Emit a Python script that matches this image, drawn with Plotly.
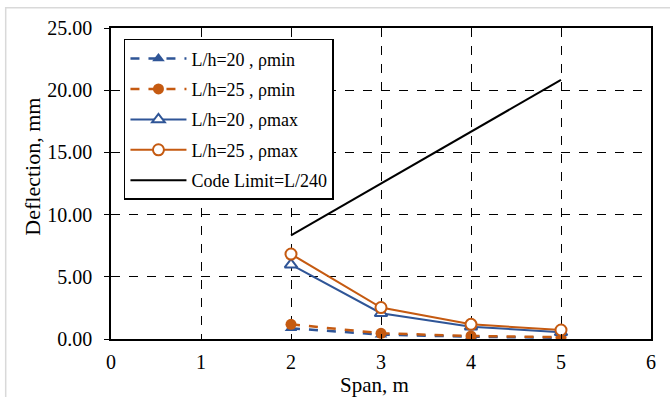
import plotly.graph_objects as go

span = [2, 3, 4, 5]
lh20_min = [0.86, 0.35, 0.18, 0.10]
lh25_min = [1.18, 0.46, 0.24, 0.15]
lh20_max = [5.97, 2.07, 0.99, 0.54]
lh25_max = [6.83, 2.53, 1.18, 0.72]
code_limit = [8.33, 12.50, 16.67, 20.83]

names = ["L/h=20 , ρmin", "L/h=25 , ρmin", "L/h=20 , ρmax", "L/h=25 , ρmax", "Code Limit=L/240"]

BLUE = "#2F5597"
ORANGE = "#C55A11"
FONT = "Liberation Serif"

fig = go.Figure()
fig.add_trace(go.Scatter(x=span, y=lh20_min, name=names[0], mode="lines+markers", legendgroup="a",
                         line=dict(color=BLUE, width=2.5, dash="dash"),
                         marker=dict(symbol="triangle-up", size=11, color=BLUE)))
fig.add_trace(go.Scatter(x=span, y=lh25_min, name=names[1], mode="lines+markers", legendgroup="b",
                         line=dict(color=ORANGE, width=2.5, dash="dash"),
                         marker=dict(symbol="circle", size=11, color=ORANGE)))
fig.add_trace(go.Scatter(x=span, y=lh20_max, name=names[2], mode="lines+markers", legendgroup="c",
                         line=dict(color=BLUE, width=2),
                         marker=dict(symbol="triangle-up", size=11, color="white",
                                     line=dict(color=BLUE, width=2))))
fig.add_trace(go.Scatter(x=span, y=lh25_max, name=names[3], mode="lines+markers", legendgroup="d",
                         line=dict(color=ORANGE, width=2),
                         marker=dict(symbol="circle", size=11, color="white",
                                     line=dict(color=ORANGE, width=2))))
fig.add_trace(go.Scatter(x=span, y=code_limit, name=names[4], mode="lines", legendgroup="e",
                         line=dict(color="black", width=2)))

fig.update_layout(
    width=670, height=397,
    margin=dict(l=111, r=19, t=28, b=58, autoexpand=False),
    paper_bgcolor="white", plot_bgcolor="white",
    font=dict(family=FONT, color="black", size=18),
    legend=dict(x=0.024, y=0.965, xanchor="left", yanchor="top",
                bordercolor="black", borderwidth=1.5, bgcolor="white",
                font=dict(family=FONT, size=18), tracegroupgap=4,
                itemwidth=56),
    shapes=[dict(type="rect", xref="paper", yref="paper",
                 x0=-0.195, x1=1.1, y0=-0.3, y1=1.065,
                 line=dict(color="#D9D9D9", width=1.5), layer="below")],
    annotations=[dict(text="Deflection, mm", xref="paper", yref="paper",
                      x=-0.147, y=0.553, xanchor="center", yanchor="middle",
                      textangle=-90, showarrow=False,
                      font=dict(family=FONT, size=22, color="black")),
                 dict(text="Span, m", xref="paper", yref="paper",
                      x=0.488, y=-0.148, xanchor="center", yanchor="middle",
                      showarrow=False,
                      font=dict(family=FONT, size=21, color="black"))],
)
fig.update_xaxes(range=[0, 6], dtick=1, tick0=0, automargin=False,
                 showgrid=True, gridcolor="black", griddash="dash", gridwidth=1,
                 showline=True, linecolor="black", linewidth=1.5, mirror=True,
                 ticks="inside", ticklen=5, tickcolor="black",
                 zeroline=False, ticklabelstandoff=4,
                 tickfont=dict(family=FONT, size=20))
fig.update_yaxes(range=[0, 25], dtick=5, tick0=0, tickformat=".2f", automargin=False,
                 showgrid=True, gridcolor="black", griddash="dash", gridwidth=1,
                 showline=True, linecolor="black", linewidth=1.5, mirror=True,
                 ticks="outside", ticklen=5, tickcolor="black",
                 zeroline=False, ticklabelstandoff=8,
                 tickfont=dict(family=FONT, size=20))

fig.write_html("out.html")
